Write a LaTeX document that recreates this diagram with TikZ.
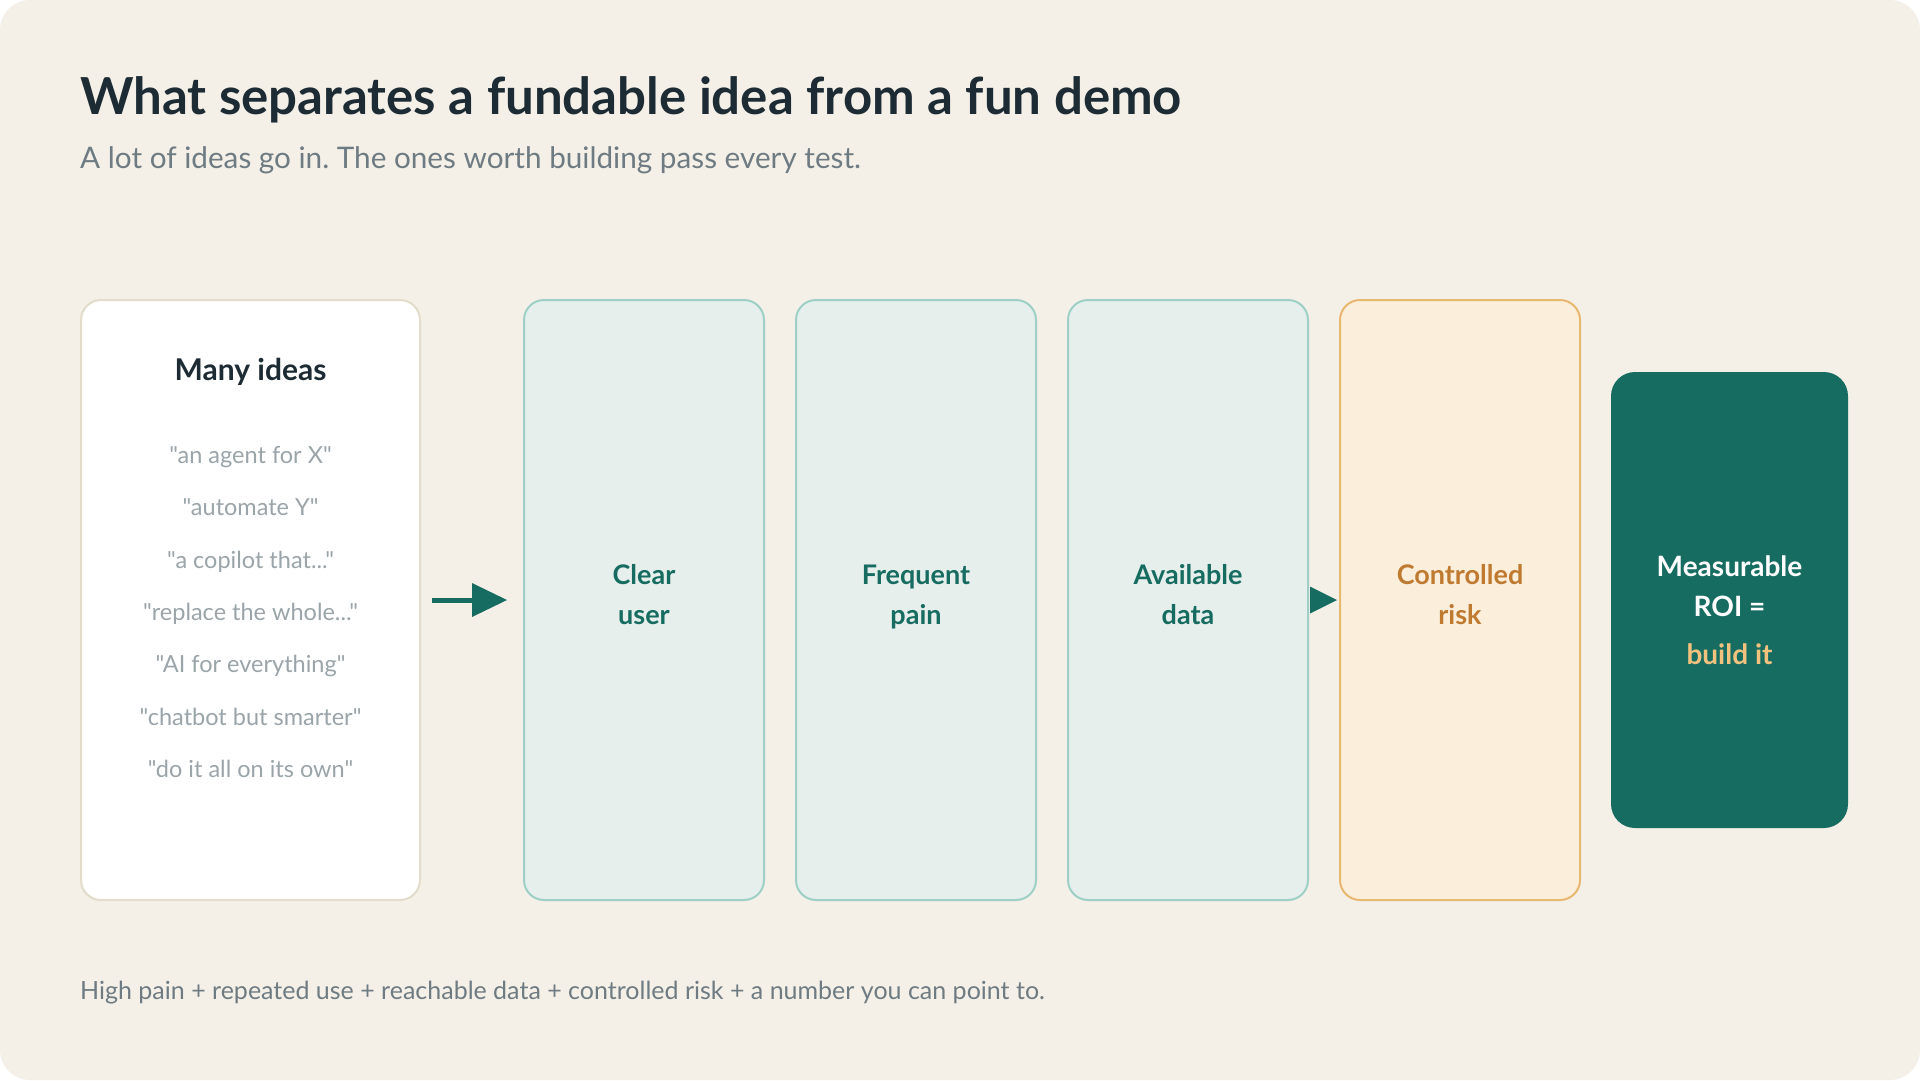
\documentclass[tikz,border=0pt]{standalone}
\usepackage{fontspec}
\setmainfont{Lato}[Ligatures=TeXOff]
\frenchspacing
\definecolor{bg}{HTML}{F4F0E8}
\definecolor{ink}{HTML}{1D2B34}
\definecolor{sub}{HTML}{6E7B82}
\definecolor{quote}{HTML}{9AA4A9}
\definecolor{ideasline}{HTML}{E3DCCB}
\definecolor{tealfill}{HTML}{E6EFEC}
\definecolor{tealline}{HTML}{9FD0C8}
\definecolor{teal}{HTML}{176C61}
\definecolor{riskfill}{HTML}{FBEFDC}
\definecolor{riskline}{HTML}{E9B870}
\definecolor{risktext}{HTML}{C07A30}
\definecolor{gold}{HTML}{F1C27D}
\tikzset{
  box/.style={rounded corners=20pt, line width=2pt},
  testbox/.style={box, draw=tealline, fill=tealfill},
  lbl/.style={anchor=base, font=\fontsize{27}{40}\selectfont\bfseries, align=center},
  roilbl/.style={anchor=base, font=\fontsize{28}{40}\selectfont\bfseries},
  qt/.style={anchor=base, text=quote, font=\fontsize{23.5}{28}\selectfont},
}
\begin{document}
\begin{tikzpicture}[x=1pt,y=-1pt]
\useasboundingbox (0,0) rectangle (1920,1080);
\fill[white] (0,0) rectangle (1920,1080);
\fill[bg, rounded corners=30pt] (0,0) rectangle (1920,1080);

\node[anchor=base west, text=ink, font=\fontsize{51}{60}\selectfont\bfseries, inner sep=0] (title) at (80,114) {What separates a fundable idea from a fun demo};
\node[anchor=base west, text=sub, font=\fontsize{29.7}{34}\selectfont, inner sep=0] (subtitle) at (80,168) {A lot of ideas go in. The ones worth building pass every test.};

% boxes
\draw[box, draw=ideasline, fill=white] (81,300) rectangle (420,900);
\node (ideas) at (250.5,600) [minimum width=339pt, minimum height=600pt] {};
\draw[testbox] (524,300) rectangle (764,900);
\draw[testbox] (796,300) rectangle (1036,900);
\draw[testbox] (1068,300) rectangle (1308,900);
\draw[box, draw=riskline, fill=riskfill] (1340,300) rectangle (1580,900);
\fill[teal, rounded corners=24pt] (1611,372) rectangle (1848,828);

\node (clear) at (644,600) [minimum width=240pt, minimum height=600pt] {};
\node (freq) at (916,600) [minimum width=240pt, minimum height=600pt] {};
\node (avail) at (1188,600) [minimum width=240pt, minimum height=600pt] {};
\node (risk) at (1460,600) [minimum width=240pt, minimum height=600pt] {};
\node (roi) at (1729.5,600) [minimum width=237pt, minimum height=456pt] {};

% ideas texts
\node[anchor=base, text=ink, font=\fontsize{30}{36}\selectfont\bfseries] (manyideas) at (250.5,380) {Many ideas};
\node[qt] (q1) at (250.5,463) {"an agent for X"};
\node[qt] (q2) at (250.5,515.5) {"automate Y"};
\node[qt] (q3) at (250.5,568) {"a copilot that..."};
\node[qt] (q4) at (250.5,620) {"replace the whole..."};
\node[qt] (q5) at (250.5,672.5) {"AI for everything"};
\node[qt] (q6) at (250.5,725) {"chatbot but smarter"};
\node[qt] (q7) at (250.5,777) {"do it all on its own"};

% labels
\node[lbl, text=teal] (tclear) at (644,624) {Clear\\user};
\node[lbl, text=teal] (tfreq) at (916,624) {Frequent\\pain};
\node[lbl, text=teal] (tavail) at (1188,624) {Available\\data};
\node[lbl, text=risktext] (trisk) at (1460,624) {Controlled\\risk};
\node[roilbl, text=white] (troi1) at (1729.5,576) {Measurable};
\node[roilbl, text=white] (troi2) at (1729.5,616) {ROI =};
\node[roilbl, text=gold] (troi3) at (1729.5,664) {build it};

% arrows
\coordinate (a1s) at (432,600);
\coordinate (a1h) at (473,600);
\draw[teal, line width=5pt] (a1s) -- (a1h);
\fill[teal] (472,583) -- (507,600) -- (472,617) -- cycle;
\fill[teal] (1310,586.5) -- (1337,600) -- (1310,613.5) -- cycle;

\node[anchor=base west, text=sub, font=\fontsize{25}{30}\selectfont, inner sep=0] (footer) at (80,999) {High pain + repeated use + reachable data + controlled risk + a number you can point to.};
\end{tikzpicture}
\end{document}
